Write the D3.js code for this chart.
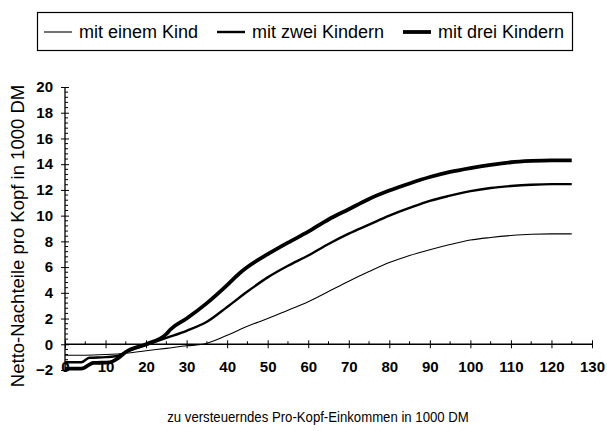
<!DOCTYPE html>
<html>
<head>
<meta charset="utf-8">
<script src="https://cdn.jsdelivr.net/npm/d3@7"></script>
<style>
  body { margin: 0; background: #fff; }
  text { font-family: "Liberation Sans", Arial, sans-serif; fill: #000; }
</style>
</head>
<body>
<div id="chart-container"></div>
<script>
// series: [Einkommen in 1000 DM, Netto-Nachteil in 1000 DM]
const einKind = [[0,-0.85],[5,-0.85],[10,-0.8],[15,-0.7],[20,-0.5],[25,-0.32],[30,-0.12],[34,0],[40,0.7],[45,1.4],[50,2.0],[55,2.65],[60,3.3],[65,4.1],[70,4.9],[75,5.65],[80,6.35],[85,6.9],[90,7.35],[95,7.75],[100,8.1],[105,8.3],[110,8.45],[115,8.55],[120,8.58],[125,8.58]];
const zweiKinder = [[0,-1.4],[4,-1.4],[6,-1.05],[10,-1.0],[13,-0.9],[15,-0.6],[20,-0.05],[25,0.5],[30,1.05],[35,1.75],[40,2.9],[45,4.1],[50,5.2],[55,6.1],[60,6.9],[65,7.8],[70,8.6],[75,9.3],[80,10.0],[85,10.6],[90,11.15],[95,11.55],[100,11.9],[105,12.15],[110,12.3],[115,12.4],[120,12.45],[125,12.45]];
const dreiKinder = [[0,-1.9],[4,-1.9],[7,-1.45],[11,-1.4],[13,-1.1],[15,-0.6],[20,0.0],[25,0.8],[26,1.15],[30,2.0],[35,3.2],[40,4.6],[43,5.5],[45,6.0],[50,7.0],[55,7.9],[60,8.75],[65,9.7],[70,10.5],[75,11.3],[80,11.95],[85,12.5],[90,13.0],[95,13.4],[100,13.7],[105,13.95],[110,14.15],[115,14.25],[120,14.3],[125,14.3]];

const seriesNames = ["mit einem Kind", "mit zwei Kindern", "mit drei Kindern"];
const xTicks = [0, 10, 20, 30, 40, 50, 60, 70, 80, 90, 100, 110, 120, 130];
const yTicks = [-2, 0, 2, 4, 6, 8, 10, 12, 14, 16, 18, 20];
const xMinor = [5, 15, 25, 35, 45, 55, 65, 75, 85, 95, 105, 115, 125];

const W = 607, H = 431;
const plot = { left: 65, right: 592, top: 87, bottom: 370 };

const xScale = d3.scaleLinear().domain([0, 130]).range([plot.left, plot.right]);
const yScale = d3.scaleLinear().domain([-2, 20]).range([plot.bottom, plot.top]);

const svg = d3.select("#chart-container")
  .append("svg")
  .attr("width", W)
  .attr("height", H);

// y-axis minor ticks (every 0.4)
const yMinor = d3.range(-2, 20.001, 0.4).filter(v => Math.abs(v / 2 - Math.round(v / 2)) > 0.01);
svg.append("g")
  .selectAll("line")
  .data(yMinor)
  .join("line")
  .attr("x1", xScale(0))
  .attr("x2", xScale(0) + 3)
  .attr("y1", d => yScale(d))
  .attr("y2", d => yScale(d))
  .attr("stroke", "#000");

// y-axis
const yAxis = d3.axisLeft(yScale).tickValues(yTicks).tickSize(8).tickPadding(8);
svg.append("g")
  .attr("transform", `translate(${xScale(0) + 4}, 0)`)
  .style("font-size", "15px")
  .style("font-weight", "bold")
  .call(yAxis)
  .call(g => g.select(".domain").remove())
  .call(g => g.selectAll(".tick line").attr("stroke", "#000"))
  .call(g => g.selectAll(".tick text").attr("fill", "#000").style("font-family", "'Liberation Sans', Arial, sans-serif"));

svg.append("line")
  .attr("x1", xScale(0)).attr("x2", xScale(0))
  .attr("y1", yScale(-2)).attr("y2", yScale(20))
  .attr("stroke", "#000").attr("stroke-width", 1.3);

// x-axis minor ticks
svg.append("g")
  .selectAll("line")
  .data(xMinor)
  .join("line")
  .attr("x1", d => xScale(d))
  .attr("x2", d => xScale(d))
  .attr("y1", yScale(0))
  .attr("y2", yScale(0) - 3)
  .attr("stroke", "#000");

// x-axis at y = 0
const xAxis = d3.axisBottom(xScale).tickValues(xTicks).tickSize(8).tickPadding(13);
svg.append("g")
  .attr("transform", `translate(0, ${yScale(0) - 4})`)
  .style("font-size", "15px")
  .style("font-weight", "bold")
  .call(xAxis)
  .call(g => g.select(".domain").remove())
  .call(g => g.selectAll(".tick line").attr("stroke", "#000"))
  .call(g => g.selectAll(".tick text").attr("fill", "#000").style("font-family", "'Liberation Sans', Arial, sans-serif"));

svg.append("line")
  .attr("x1", xScale(0)).attr("x2", xScale(130))
  .attr("y1", yScale(0)).attr("y2", yScale(0))
  .attr("stroke", "#000").attr("stroke-width", 1.3);

// lines
const line = d3.line()
  .x(d => xScale(d[0]))
  .y(d => yScale(d[1]))
  .curve(d3.curveMonotoneX);

const series = [
  { name: seriesNames[0], data: einKind, width: 1.1 },
  { name: seriesNames[1], data: zweiKinder, width: 2.4 },
  { name: seriesNames[2], data: dreiKinder, width: 3.8 }
];

svg.selectAll(".series")
  .data(series)
  .join("path")
  .attr("class", "series")
  .attr("fill", "none")
  .attr("stroke", "#000")
  .attr("stroke-width", d => d.width)
  .attr("stroke-linejoin", "round")
  .attr("d", d => line(d.data));

// legend
const legend = svg.append("g");
legend.append("rect")
  .attr("x", 37.5).attr("y", 12.5)
  .attr("width", 535).attr("height", 38)
  .attr("fill", "#fff")
  .attr("stroke", "#000")
  .attr("stroke-width", 1.2);

const legendX = [44, 217, 403];
series.forEach((s, i) => {
  legend.append("line")
    .attr("x1", legendX[i]).attr("x2", legendX[i] + 28)
    .attr("y1", 32).attr("y2", 32)
    .attr("stroke", "#000")
    .attr("stroke-width", s.width);
  legend.append("text")
    .attr("x", legendX[i] + 35)
    .attr("y", 38)
    .style("font-size", "18px")
    .text(s.name);
});

// y-axis label
svg.append("text")
  .attr("transform", "rotate(-90)")
  .attr("x", -236)
  .attr("y", 24)
  .style("text-anchor", "middle")
  .style("font-size", "18.5px")
  .text("Netto-Nachteile pro Kopf in 1000 DM");

// x-axis title (narrow face in the original)
svg.append("text")
  .attr("transform", "translate(318, 422) scale(0.85, 1)")
  .style("text-anchor", "middle")
  .style("font-size", "15.5px")
  .text("zu versteuerndes Pro-Kopf-Einkommen in 1000 DM");
</script>
</body>
</html>
